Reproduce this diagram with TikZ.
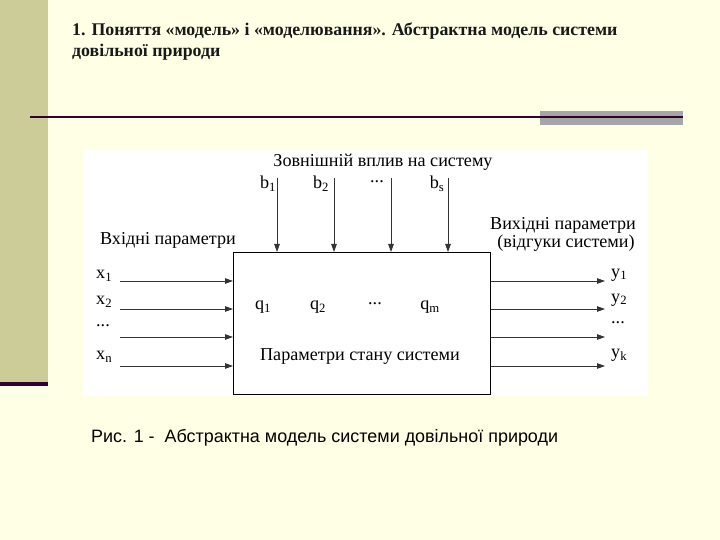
\documentclass[tikz,border=0pt]{standalone}
\usepackage{fontspec}
\setmainfont{Liberation Serif}
\newfontfamily\capfont{Liberation Sans}
\usetikzlibrary{arrows.meta}
\definecolor{bg}{HTML}{FFFFE5}
\definecolor{bar}{HTML}{CCCC99}
\definecolor{dk}{HTML}{330033}
\definecolor{gry}{HTML}{A6A6A6}
\tikzset{
  lbl/.style={inner sep=0pt, font=\fontsize{18.2}{21}\selectfont},
  arr/.style={-{Triangle[length=8bp,width=5.5bp]}, line width=0.9bp, black!80},
  sysbox/.style={draw, line width=1.2bp, fill=white},
  ttl/.style={anchor=base west, inner sep=0pt, font=\bfseries\fontsize{17.9}{21}\selectfont, text=black!90}
}
\newcommand{\sbs}[1]{\textsubscript{#1}}
\begin{document}
\begin{tikzpicture}[x=1bp,y=-1bp]
\useasboundingbox[fill=bg] (0,0) rectangle (720,540);
\fill[bar] (0,0) rectangle (48,382);
\fill[dk] (0,382) rectangle (48,386);
\fill[gry] (540,111) rectangle (683,125);
\draw[dk, line width=2bp] (30,117) -- (683,117);
\node[ttl] (title1) at (72,36) {1. Поняття «модель» і «моделювання». Абстрактна модель системи};
\node[ttl] (title2) at (72,57) {довільної природи};
% white panel
\fill[white] (83,150) rectangle (648,396);
\node[sysbox, minimum width=257bp, minimum height=142bp, anchor=north west, inner sep=0pt] (sys) at (233,252) {};
\node[lbl] (ext) at (383,162) {Зовнішній вплив на систему};
\node[lbl] (inp) at (168,240) {Вхідні параметри};
\node[lbl] (out1) at (563,225) {Вихідні параметри};
\node[lbl] (out2) at (566,243) {(відгуки системи)};
% top labels
\node[lbl] (b1) at (268,184) {b\sbs{1}};
\node[lbl] (b2) at (321,184) {b\sbs{2}};
\node[lbl] (bd) at (377,182) {...};
\node[lbl] (bs) at (437,184) {b\sbs{s}};
\foreach \n/\x in {t1/277, t2/334, t3/391, t4/448}{
  \coordinate (\n) at (\x,178);
  \draw[arr] (\n) -- (\n |- sys.north);
}
% left inputs
\foreach \n/\y in {l1/281, l2/309, l3/337, l4/366}{
  \coordinate (\n) at (120,\y);
  \draw[arr] (\n) -- (\n -| sys.west);
}
\node[lbl, anchor=west] (x1) at (96,276) {x\sbs{1}};
\node[lbl, anchor=west] (x2) at (96,302) {x\sbs{2}};
\node[lbl, anchor=west] (xd) at (96,326) {...};
\node[lbl, anchor=west] (xn) at (96,357) {x\sbs{n}};
% right outputs
\foreach \n/\y in {r1/281, r2/309, r3/337, r4/366}{
  \coordinate (\n) at (605,\y);
  \draw[arr] (\n -| sys.east) -- (\n);
}
\node[lbl, anchor=west] (y1) at (611,275) {y\sbs{1}};
\node[lbl, anchor=west] (y2) at (611,300) {y\sbs{2}};
\node[lbl, anchor=west] (yd) at (611,323) {...};
\node[lbl, anchor=west] (yk) at (611,355) {y\sbs{k}};
% inside
\node[lbl] (q1) at (263,307) {q\sbs{1}};
\node[lbl] (q2) at (318,307) {q\sbs{2}};
\node[lbl] (qd) at (375,304) {...};
\node[lbl] (qm) at (430,307) {q\sbs{m}};
\node[lbl] (state) at (360,357) {Параметри стану системи};
% caption
\node[anchor=west, inner sep=0pt, font=\capfont\fontsize{18}{21}\selectfont] (cap) at (91,438)
  {Рис. 1 -\ \ Абстрактна модель системи довільної природи};
\end{tikzpicture}
\end{document}
